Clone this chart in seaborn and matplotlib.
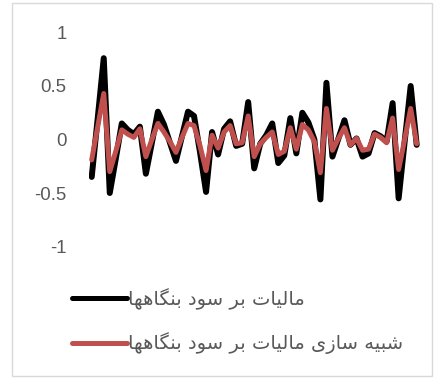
import numpy as np
import pandas as pd
import seaborn as sns
import matplotlib
matplotlib.use("Agg")
import matplotlib.pyplot as plt
from matplotlib.patches import Rectangle

# Series values (one per period)
actual = [-0.35, 0.20, 0.76, -0.50, -0.18, 0.15, 0.09, 0.05, 0.12, -0.32,
          -0.03, 0.26, 0.14, -0.03, -0.20, 0.03, 0.26, 0.22, -0.12, -0.49,
          0.07, -0.14, 0.10, 0.17, -0.06, -0.04, 0.35, -0.27, -0.04, 0.04,
          0.15, -0.22, -0.15, 0.20, -0.13, 0.25, 0.16, 0.00, -0.56, 0.53,
          -0.16, 0.01, 0.18, -0.05, 0.01, -0.16, -0.13, 0.06, 0.03, -0.02,
          0.34, -0.55, -0.02, 0.50, -0.05]
simulated = [-0.19, 0.12, 0.43, -0.30, -0.11, 0.09, 0.05, 0.02, 0.10, -0.16,
             0.00, 0.15, 0.07, -0.02, -0.12, 0.02, 0.15, 0.13, -0.06, -0.29,
             0.04, -0.08, 0.07, 0.13, -0.04, -0.03, 0.22, -0.16, -0.04, 0.02,
             0.07, -0.14, -0.11, 0.11, -0.09, 0.14, 0.09, -0.02, -0.31, 0.29,
             -0.10, 0.01, 0.11, -0.05, 0.01, -0.10, -0.09, 0.05, 0.02, -0.03,
             0.20, -0.28, 0.00, 0.29, -0.04]
series_names = ["مالیات بر سود بنگاهها", "شبیه سازی مالیات بر سود بنگاهها"]
y_ticks = [-1, -0.5, 0, 0.5, 1]
y_tick_labels = ["-1", "-0.5", "0", "0.5", "1"]

# --- minimal Arabic-script shaping (contextual forms + visual order) ---
# char: (isolated, final, initial, medial); None for initial/medial = right-joining
FORMS = {
    "ا": ("\uFE8D", "\uFE8E", None, None),
    "ب": ("\uFE8F", "\uFE90", "\uFE91", "\uFE92"),
    "ت": ("\uFE95", "\uFE96", "\uFE97", "\uFE98"),
    "د": ("\uFEA9", "\uFEAA", None, None),
    "ر": ("\uFEAD", "\uFEAE", None, None),
    "ز": ("\uFEAF", "\uFEB0", None, None),
    "س": ("\uFEB1", "\uFEB2", "\uFEB3", "\uFEB4"),
    "ش": ("\uFEB5", "\uFEB6", "\uFEB7", "\uFEB8"),
    "ل": ("\uFEDD", "\uFEDE", "\uFEDF", "\uFEE0"),
    "م": ("\uFEE1", "\uFEE2", "\uFEE3", "\uFEE4"),
    "ن": ("\uFEE5", "\uFEE6", "\uFEE7", "\uFEE8"),
    "ه": ("\uFEE9", "\uFEEA", "\uFEEB", "\uFEEC"),
    "و": ("\uFEED", "\uFEEE", None, None),
    "ی": ("\uFBFC", "\uFBFD", "\uFBFE", "\uFBFF"),
    "گ": ("\uFB92", "\uFB93", "\uFB94", "\uFB95"),
}


def _dual(c):
    return c in FORMS and FORMS[c][2] is not None


def shape_rtl(text):
    out = []
    for k, c in enumerate(text):
        if c not in FORMS:
            out.append(c)
            continue
        prev = text[k - 1] if k > 0 else ""
        nxt = text[k + 1] if k + 1 < len(text) else ""
        jp = _dual(prev)
        jn = _dual(c) and nxt in FORMS
        iso, fin, ini, med = FORMS[c]
        if jp and jn:
            out.append(med)
        elif jp:
            out.append(fin)
        elif jn:
            out.append(ini)
        else:
            out.append(iso)
    return "".join(out)[::-1]


df = pd.DataFrame({
    "period": np.arange(len(actual)),
    "actual": actual,
    "simulated": simulated,
})

sns.set_style("white")
plt.rcParams["font.family"] = ["Liberation Sans", "DejaVu Sans"]

W, H = 437, 379
fig = plt.figure(figsize=(W / 100, H / 100), dpi=100)
ax = fig.add_axes([88.7 / W, 1 - 246.5 / H, 331 / W, 214 / H])

line_kw = dict(solid_capstyle="round", solid_joinstyle="round")
sns.lineplot(data=df, x="period", y="actual", ax=ax, color="#000000",
             linewidth=4.3, label=shape_rtl(series_names[0]), **line_kw)
sns.lineplot(data=df, x="period", y="simulated", ax=ax, color="#C0504D",
             linewidth=3.6, label=shape_rtl(series_names[1]), **line_kw)

ax.set_xlim(-0.5, len(actual) - 0.5)
ax.set_ylim(-1, 1)
ax.set_yticks(y_ticks)
ax.set_yticklabels(y_tick_labels, fontsize=13.4, color="#595959")
ax.tick_params(axis="y", length=0, pad=16)
ax.set_xticks([])
ax.set_xlabel("")
ax.set_ylabel("")
for s in ax.spines.values():
    s.set_visible(False)

leg = ax.legend(loc="upper left", bbox_to_anchor=(72 / W, 1 - 288 / H),
                bbox_transform=fig.transFigure, frameon=False,
                borderpad=0, borderaxespad=0,
                handlelength=2.85, handletextpad=0.05, labelspacing=1.17,
                prop={"family": ["DejaVu Sans"], "size": 14})
for t in leg.get_texts():
    t.set_color("#595959")
for h in leg.get_lines():
    h.set_solid_capstyle("round")
    h.set_linewidth(3.6)

# chart-area border
fig.patches.append(Rectangle((12 / W, 3 / H), 420 / W, 373 / H,
                             transform=fig.transFigure, fill=False,
                             edgecolor="#D9D9D9", linewidth=1.0))

fig.savefig("out.png", dpi=100)
